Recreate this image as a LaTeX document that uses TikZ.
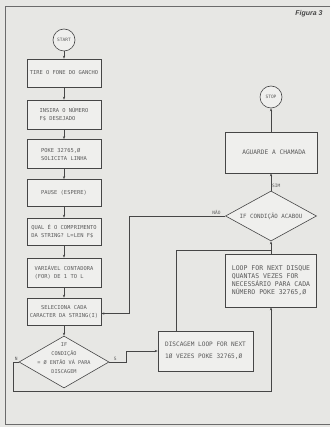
\documentclass[tikz,border=0pt]{standalone}
\usepackage{fontspec}
\setmonofont{DejaVu Sans Mono}
\newfontfamily\figfont{Liberation Sans}
\usetikzlibrary{arrows.meta,shapes.geometric,positioning}
\definecolor{paper}{RGB}{231,231,228}
\definecolor{boxfill}{RGB}{239,239,237}
\definecolor{ink}{RGB}{70,70,70}
\definecolor{type}{RGB}{90,90,90}

\begin{document}
\begin{tikzpicture}[x=1pt,y=-1pt,>={Stealth[length=3pt,width=2.2pt]},
  procbox/.style={draw=ink,fill=boxfill,line width=0.6pt,inner sep=1pt,align=left,
    minimum width=74pt,minimum height=28pt,text=type,font=\ttfamily\fontsize{5.4}{8}\selectfont},
  termcirc/.style={circle,draw=ink,fill=boxfill,line width=0.6pt,minimum size=22pt,
    inner sep=0pt,text=type,font=\ttfamily\fontsize{4.5}{5}\selectfont},
  decision/.style={diamond,draw=ink,fill=boxfill,line width=0.6pt,inner sep=0pt},
  flow/.style={draw=ink,line width=0.6pt},
  lbl/.style={text=type,font=\ttfamily\fontsize{4.5}{5}\selectfont,inner sep=0.8pt}]

  \useasboundingbox (0,0) rectangle (330,427);
  \fill[paper] (0,0) rectangle (330,427);
  \draw[flow,draw=ink!80] (330,6) -- (5,6) -- (5,424) -- (330,424);
  \node[text=ink,font=\figfont\bfseries\itshape\fontsize{7}{8}\selectfont] (fig) at (309,14) {Figura 3};

  % coluna da esquerda
  \node[termcirc] (start) at (64,40) {START};
  \node[procbox] (b1) at (64,73) {TIRE O FONE DO GANCHO};
  \node[procbox,minimum height=29pt] (b2) at (64,114.5) {INSIRA O NÚMERO\\F\$ DESEJADO};
  \node[procbox,minimum height=29pt] (b3) at (64,154) {POKE 32765,Ø\\SOLICITA LINHA};
  \node[procbox,minimum height=27pt] (b4) at (64,193) {PAUSE (ESPERE)};
  \node[procbox,minimum height=27pt] (b5) at (64,231.5) {QUAL É O COMPRIMENTO\\DA STRING? L=LEN F\$};
  \node[procbox,minimum height=29pt] (b6) at (64,272.5) {VARIÁVEL CONTADORA\\(FOR) DE 1 TO L};
  \node[procbox,minimum height=27pt,align=center] (b7) at (64,311.5) {SELECIONA CADA\\CARACTER DA STRING(I)};
  \node[decision,minimum width=90pt,minimum height=52pt] (d1) at (64,362) {};
  \node[lbl,align=center,font=\ttfamily\fontsize{5.2}{9}\selectfont] (d1txt) at (64,358.5)
    {IF\\CONDIÇÃO\\= Ø ENTÃO VÁ PARA\\DISCAGEM};
  \foreach \a/\b in {start/b1,b1/b2,b2/b3,b3/b4,b4/b5,b5/b6,b6/b7,b7/d1}
    \draw[flow,->] (\a) -- (\b);

  % coluna da direita
  \node[termcirc] (stop) at (271,97) {STOP};
  \node[procbox,minimum width=92pt,minimum height=41pt,align=center,
    font=\ttfamily\fontsize{6.2}{8}\selectfont] (agu) at (271,152.5) {\hspace*{6pt}AGUARDE A CHAMADA};
  \node[decision,minimum width=91pt,minimum height=50pt] (d2) at (271,216) {};
  \node[lbl,font=\ttfamily\fontsize{5.8}{7}\selectfont] (d2txt) at (d2) {IF CONDIÇÃO ACABOU};
  \node[procbox,minimum width=91pt,minimum height=53pt,
    font=\ttfamily\fontsize{6.5}{8.2}\selectfont] (loop) at (271,280.5)
    {LOOP FOR NEXT DISQUE\\QUANTAS VEZES FOR\\NECESSÁRIO PARA CADA\\NÚMERO POKE 32765,Ø};
  \node[procbox,minimum width=95pt,minimum height=40pt,
    font=\ttfamily\fontsize{6.1}{12}\selectfont] (disc) at (205.5,351)
    {DISCAGEM LOOP FOR NEXT\\1Ø VEZES POKE 32765,Ø};

  \coordinate (jn) at (271,250);
  \coordinate (nao) at (129,216);
  \coordinate (nbot) at (271,391);

  \draw[flow,->] (agu) -- (stop);
  \draw[flow,->] (d2) -- node[lbl,pos=0.25,right] {SIM} (agu);
  \draw[flow,->] (jn) -- (d2.south);
  \draw[flow] (loop) -- (jn);
  \draw[flow] ([xshift=-29.5pt]disc.north) |- (jn);
  \draw[flow,->] (d2.west) -- node[lbl,above,pos=0.09] {NÃO} (nao) |- ([yshift=-2pt]b7.east);
  \draw[flow,->] (d1.east) -- node[lbl,above,pos=0.35] {S} ++(17,0) |- (disc.west);
  \draw[flow,->] (d1.west) -- node[lbl,above,pos=0.5] {N} ++(-5,0) |- (nbot) -- (loop.south);
\end{tikzpicture}
\end{document}
